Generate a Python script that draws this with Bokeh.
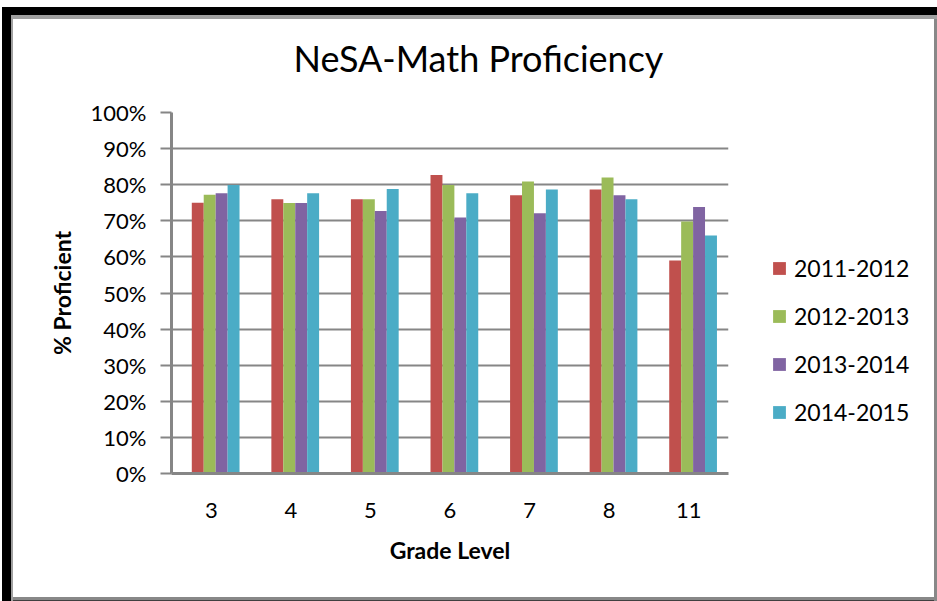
from bokeh.plotting import figure
from bokeh.layouts import row
from bokeh.models import (FactorRange, Range1d, FixedTicker, PrintfTickFormatter,
                          Legend, LegendItem, ColumnDataSource)
from bokeh.transform import dodge
from bokeh.embed import file_html
from bokeh.resources import INLINE

# ---- data ----
grades = ["3", "4", "5", "6", "7", "8", "11"]
years = ["2011-2012", "2012-2013", "2013-2014", "2014-2015"]
v2011 = [75.0, 76.0, 76.0, 82.7, 77.1, 78.7, 59.0]
v2012 = [77.2, 74.9, 76.0, 79.9, 80.9, 82.0, 69.8]
v2013 = [77.6, 74.9, 72.7, 70.9, 72.1, 77.1, 73.8]
v2014 = [79.9, 77.6, 78.8, 77.6, 78.7, 76.0, 65.9]
y_ticks = [0, 10, 20, 30, 40, 50, 60, 70, 80, 90, 100]
title_text = "NeSA-Math Proficiency"
x_title = "Grade Level"
y_title = "% Proficient"

colors = ["#C0504D", "#9BBB59", "#8064A2", "#4BACC6"]
offsets = [-0.17, -0.02, 0.13, 0.28]
FONT = "Lato"
GRAY = "#868686"

WM, WL, H = 740, 197, 601
src = ColumnDataSource(dict(grade=grades, y2011=v2011, y2012=v2012, y2013=v2013, y2014=v2014))

p = figure(width=WM, height=H, x_range=FactorRange(*grades), y_range=Range1d(0, 100),
           output_backend="svg", toolbar_location=None, title=title_text,
           min_border_left=171, min_border_right=12, min_border_top=112, min_border_bottom=128)
p.x_range.range_padding = 0
p.outline_line_color = None
p.background_fill_color = "white"
p.border_fill_alpha = 0

renderers = []
for col, off, c in zip(["y2011", "y2012", "y2013", "y2014"], offsets, colors):
    r = p.vbar(x=dodge("grade", off, range=p.x_range), top=col, width=0.15, source=src,
               fill_color=c, line_color=None)
    renderers.append(r)

# title
p.title.text_font = FONT
p.title.text_font_size = "36px"
p.title.text_font_style = "normal"
p.title.text_color = "black"
p.title.align = "left"
p.title.offset = 122
p.title.standoff = 65

# axes
p.yaxis.ticker = FixedTicker(ticks=y_ticks)
p.yaxis.formatter = PrintfTickFormatter(format="%d%%")
p.yaxis.axis_line_color = GRAY
p.yaxis.axis_line_width = 3
p.yaxis.major_tick_line_color = GRAY
p.yaxis.major_tick_line_width = 2
p.yaxis.major_tick_out = 11
p.yaxis.major_tick_in = 0
p.yaxis.minor_tick_line_color = None
p.yaxis.major_label_standoff = 14
p.yaxis.major_label_text_font = FONT
p.yaxis.major_label_text_font_size = "22px"
p.yaxis.major_label_text_color = "black"
p.yaxis.axis_label = y_title
p.yaxis.axis_label_text_font = FONT
p.yaxis.axis_label_text_font_size = "23px"
p.yaxis.axis_label_text_font_style = "bold"
p.yaxis.axis_label_text_color = "black"
p.yaxis.axis_label_standoff = 12

p.xaxis.axis_line_color = GRAY
p.xaxis.axis_line_width = 3
p.xaxis.major_tick_line_color = None
p.xaxis.minor_tick_line_color = None
p.xaxis.major_tick_out = 0
p.xaxis.major_label_standoff = 29
p.xaxis.major_label_text_font = FONT
p.xaxis.major_label_text_font_size = "22px"
p.xaxis.major_label_text_color = "black"
p.xaxis.axis_label = x_title
p.xaxis.axis_label_text_font = FONT
p.xaxis.axis_label_text_font_size = "23px"
p.xaxis.axis_label_text_font_style = "bold"
p.xaxis.axis_label_text_color = "black"
p.xaxis.axis_label_standoff = 15

p.xgrid.grid_line_color = None
p.ygrid.ticker = FixedTicker(ticks=y_ticks)
p.ygrid.grid_line_color = GRAY
p.ygrid.grid_line_width = 2

# legend panel (separate figure to the right of the plot area)
q = figure(width=WL, height=H, x_range=Range1d(0, 1), y_range=Range1d(0, 1),
           x_axis_type=None, y_axis_type=None, output_backend="svg", toolbar_location=None,
           min_border=0)
q.outline_line_color = None
q.background_fill_alpha = 0
q.border_fill_alpha = 0
q.grid.visible = False
# zero-size proxy glyphs: only their legend swatches are shown
leg_renderers = [q.vbar(x=[0.5], top=[0], bottom=[0], width=0, fill_color=c, line_color=None)
                 for c in colors]

legend = Legend(items=[LegendItem(label=y, renderers=[r]) for y, r in zip(years, leg_renderers)],
                location=(31, 47), orientation="vertical",
                margin=0, padding=0, border_line_color=None, background_fill_alpha=0,
                glyph_width=16, glyph_height=16, label_standoff=7, spacing=20,
                label_text_font=FONT, label_text_font_size="23px", label_height=28,
                label_text_color="black")
q.add_layout(legend, "center")

layout = row(p, q)
layout.styles = {
    "background-color": "white",
    "box-shadow": ("inset 2px 7px 0 0 #ffffff, inset 11px 15px 0 0 #000000, "
                   "inset 13px 19px 0 0 #a0a0a0, inset -3px 0 0 0 #888888, "
                   "inset 0 -1px 0 0 #404040, inset 0 -4px 0 0 #888888"),
}

open("out.html", "w").write(file_html(layout, INLINE))
